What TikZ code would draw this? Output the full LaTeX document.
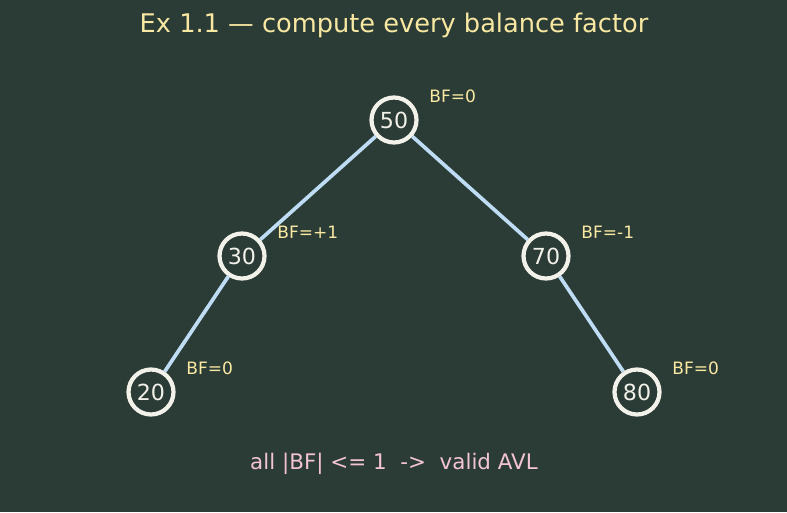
\documentclass[tikz,border=0pt]{standalone}
\usepackage{fontspec}
\setmainfont{DejaVu Sans}
\usetikzlibrary{positioning}
\definecolor{board}{HTML}{2B3B35}
\definecolor{chalk}{HTML}{F2F2EA}
\definecolor{wire}{HTML}{BEDDF5}
\definecolor{butter}{HTML}{F8E8A2}
\definecolor{blush}{HTML}{F3C4D6}

\tikzset{
  avlnode/.style={circle, draw=chalk, fill=board, line width=2.4pt, minimum size=0.9cm, inner sep=0pt, text=chalk, font=\fontsize{12.6}{14}\selectfont},
  avledge/.style={draw=wire, line width=2.1pt},
  bflabel/.style={anchor=west, text=butter, font=\fontsize{9.7}{11}\selectfont, inner sep=0pt}
}

\begin{document}
\begin{tikzpicture}[x=0.02cm, y=0.02cm]
\fill[board] (0,0) rectangle (787,512);
\node[text=butter, font=\fontsize{14.6}{17}\selectfont] (title) at (394,487) {Ex 1.1 — compute every balance factor};

% the tree
\node[avlnode] (n50) at (394,392) {50};
\node[avlnode] (n30) at (242,256) {30};
\node[avlnode] (n70) at (546,256) {70};
\node[avlnode] (n20) at (151,120) {20};
\node[avlnode] (n80) at (637,120) {80};

\draw[avledge] (n50) -- (n30);
\draw[avledge] (n50) -- (n70);
\draw[avledge] (n30) -- (n20);
\draw[avledge] (n70) -- (n80);

% balance factors
\node[bflabel] (bf50) at (429,416) {BF=0};
\node[bflabel] (bf30) at (277,280) {BF=+1};
\node[bflabel] (bf70) at (581,280) {BF=-1};
\node[bflabel] (bf20) at (186,144) {BF=0};
\node[bflabel] (bf80) at (672,144) {BF=0};

\node[text=blush, font=\fontsize{12.2}{14}\selectfont] (verdict) at (394,48) {all |BF| <= 1\ \ ->\ \ valid AVL};
\end{tikzpicture}
\end{document}
